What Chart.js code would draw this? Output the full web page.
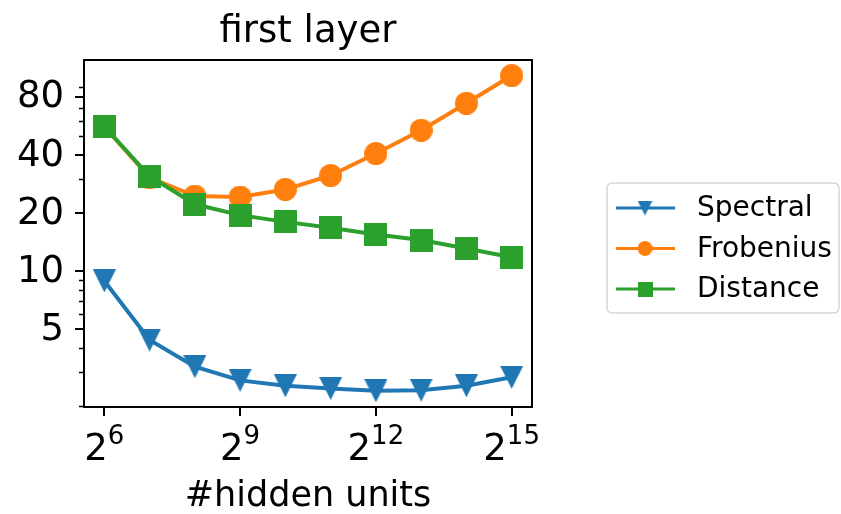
<!DOCTYPE html>
<html>
<head>
<meta charset="utf-8">
<script src="https://cdn.jsdelivr.net/npm/chart.js@4.4.0/dist/chart.umd.min.js"></script>
<style>
  html, body { margin: 0; padding: 0; background: #fff; }
</style>
</head>
<body>
<canvas id="chart" width="841" height="514"></canvas>
<script>
// x values are log2 of the number of hidden units
const exponents = [6, 7, 8, 9, 10, 11, 12, 13, 14, 15];
const spectral  = [8.9, 4.4, 3.2, 2.72, 2.55, 2.47, 2.4, 2.42, 2.55, 2.82];
const frobenius = [56, 30.5, 24.5, 24.2, 26.5, 31.3, 40.7, 53.7, 74, 103];
const distance  = [56, 31, 22.2, 19.5, 18.0, 16.8, 15.5, 14.5, 13.1, 11.8];

const seriesNames = ['Spectral', 'Frobenius', 'Distance'];
const seriesColors = ['#1f77b4', '#ff7f0e', '#2ca02c'];

const yMajorTicks = [5, 10, 20, 40, 80];
const yMinorTicks = [2, 3, 4, 6, 7, 8, 9, 30, 50, 60, 70, 90];
const xMajorTicks = [6, 9, 12, 15];

const FONT = '"DejaVu Sans", sans-serif';
const TEXT_COLOR = '#000';

// marker images (matplotlib-like 'v', 'o', 's')
function makeMarker(kind, color, size) {
    const c = document.createElement('canvas');
    c.width = size; c.height = size;
    const g = c.getContext('2d');
    g.fillStyle = color;
    g.beginPath();
    if (kind === 'v') {
        g.moveTo(0, 0);
        g.lineTo(size, 0);
        g.lineTo(size / 2, size);
        g.closePath();
    } else if (kind === 'o') {
        g.arc(size / 2, size / 2, size / 2, 0, Math.PI * 2);
    } else {
        g.rect(0, 0, size, size);
    }
    g.fill();
    return c;
}

const markerKinds = ['v', 'o', 's'];
const markers = markerKinds.map((k, i) => makeMarker(k, seriesColors[i], 23));
const legendMarkers = markerKinds.map((k, i) => makeMarker(k, seriesColors[i], 15));

const datasets = [spectral, frobenius, distance].map((vals, i) => ({
    label: seriesNames[i],
    data: exponents.map((x, j) => ({ x: x, y: vals[j] })),
    borderColor: seriesColors[i],
    backgroundColor: seriesColors[i],
    borderWidth: 4,
    pointStyle: markers[i],
    pointRadius: 12,
    pointHoverRadius: 12,
    tension: 0,
    order: 2 - i
}));

const decorPlugin = {
    id: 'decor',
    afterDraw: (chart) => {
        const { ctx, chartArea: { top, bottom, left, right } } = chart;
        const xs = chart.scales.x;
        const ys = chart.scales.y;
        ctx.save();
        ctx.strokeStyle = '#000';
        ctx.fillStyle = TEXT_COLOR;

        // y ticks
        ctx.lineWidth = 1.6;
        ctx.beginPath();
        yMinorTicks.forEach(v => {
            const y = Math.round(ys.getPixelForValue(v)) + 0.5;
            ctx.moveTo(left, y);
            ctx.lineTo(left - 5, y);
        });
        ctx.stroke();
        ctx.lineWidth = 2;
        ctx.beginPath();
        yMajorTicks.forEach(v => {
            const y = Math.round(ys.getPixelForValue(v));
            ctx.moveTo(left, y);
            ctx.lineTo(left - 9, y);
        });
        xMajorTicks.forEach(v => {
            const x = Math.round(xs.getPixelForValue(v));
            ctx.moveTo(x, bottom);
            ctx.lineTo(x, bottom + 9);
        });
        ctx.stroke();

        // frame
        ctx.lineWidth = 2;
        ctx.strokeRect(left, top, right - left, bottom - top);

        // y tick labels
        ctx.font = '37px ' + FONT;
        ctx.textAlign = 'right';
        ctx.textBaseline = 'middle';
        yMajorTicks.forEach(v => {
            ctx.fillText(String(v), left - 20, ys.getPixelForValue(v) + 1);
        });

        // x tick labels: 2^n
        ctx.textAlign = 'left';
        ctx.textBaseline = 'alphabetic';
        xMajorTicks.forEach(v => {
            const x = xs.getPixelForValue(v);
            ctx.font = '37px ' + FONT;
            const wBase = ctx.measureText('2').width;
            ctx.font = '26px ' + FONT;
            const wExp = ctx.measureText(String(v)).width;
            const x0 = x - (wBase + wExp) / 2;
            ctx.font = '37px ' + FONT;
            ctx.fillText('2', x0, bottom + 53);
            ctx.font = '26px ' + FONT;
            ctx.fillText(String(v), x0 + wBase, bottom + 37);
        });

        // axis label and title
        ctx.textAlign = 'center';
        ctx.font = '35px ' + FONT;
        ctx.fillText('#hidden units', (left + right) / 2, bottom + 99);
        ctx.font = '37px ' + FONT;
        ctx.fillText('first layer', (left + right) / 2, top - 18);

        // legend
        const lx = 607, ly = 183, lw = 232, lh = 130;
        ctx.beginPath();
        ctx.roundRect(lx, ly, lw, lh, 5);
        ctx.fillStyle = 'rgba(255,255,255,0.8)';
        ctx.fill();
        ctx.strokeStyle = '#d6d6d6';
        ctx.lineWidth = 1.5;
        ctx.stroke();
        ctx.font = '28px ' + FONT;
        ctx.textAlign = 'left';
        ctx.textBaseline = 'middle';
        seriesNames.forEach((name, i) => {
            const ey = 208 + i * 40.5;
            ctx.strokeStyle = seriesColors[i];
            ctx.lineWidth = 3;
            ctx.beginPath();
            ctx.moveTo(616, ey);
            ctx.lineTo(675, ey);
            ctx.stroke();
            ctx.drawImage(legendMarkers[i], 645 - 7.5, ey - 7.5);
            ctx.fillStyle = TEXT_COLOR;
            ctx.fillText(name, 697, ey + 1);
        });
        ctx.restore();
    }
};

new Chart(document.getElementById('chart').getContext('2d'), {
    type: 'line',
    data: { datasets: datasets },
    options: {
        responsive: false,
        animation: false,
        layout: { padding: { left: 84, top: 60, right: 309, bottom: 107 } },
        plugins: { legend: { display: false }, tooltip: { enabled: false } },
        scales: {
            x: { type: 'linear', min: 5.55, max: 15.45, display: false },
            y: { type: 'logarithmic', min: 1.98, max: 124, display: false }
        }
    },
    plugins: [decorPlugin]
});
</script>
</body>
</html>
